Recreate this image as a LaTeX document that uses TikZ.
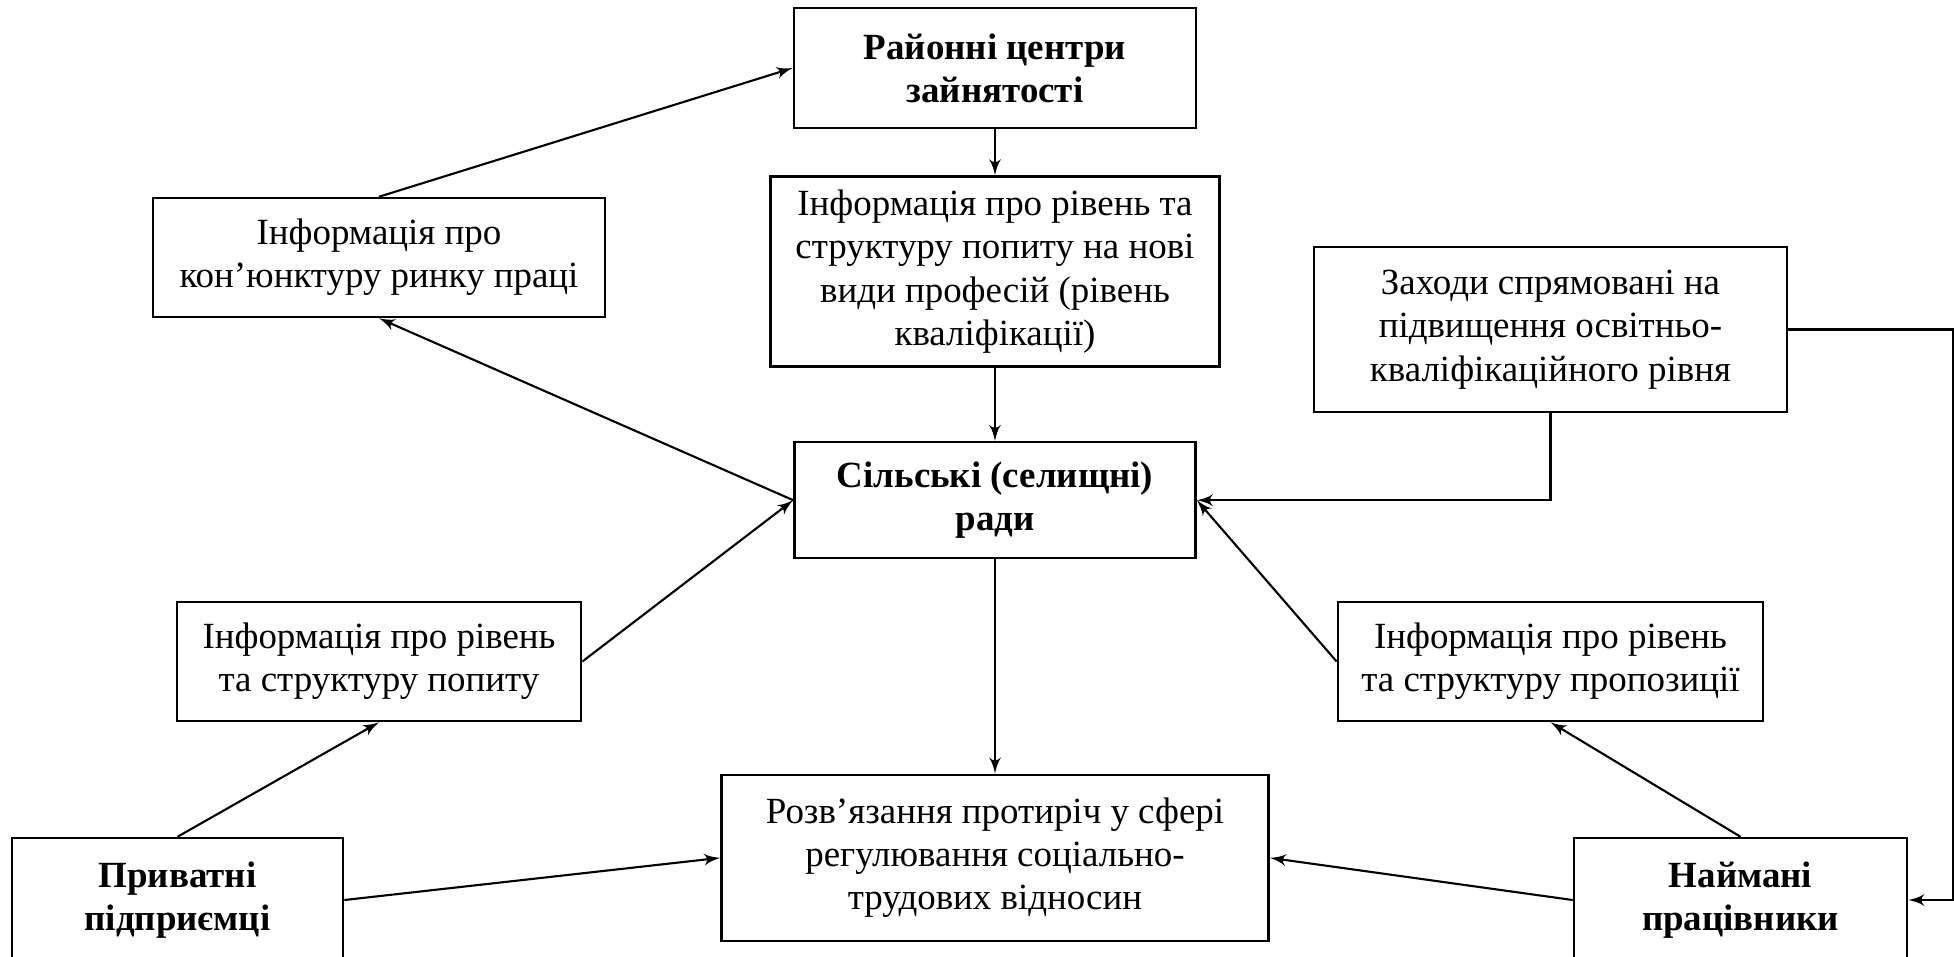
\documentclass[tikz,border=0pt]{standalone}
\usepackage{fontspec}
\setmainfont{Liberation Serif}
\usepackage{tikz}
\usetikzlibrary{arrows,positioning}
\tikzstyle{block}=[rectangle,draw=black,line width=0.7pt,align=center,
			inner sep=0pt,fill=white,font=\fontsize{10.5}{12.3}\selectfont]
\tikzstyle{headblock}=[block,font=\fontsize{10.5}{12.3}\selectfont\bfseries]
\tikzstyle{line}=[->,semithick]

\begin{document}
\begin{tikzpicture}[>=latex',x=0.01cm,y=-0.01cm]

	\useasboundingbox (0,0) rectangle (1954,956);

	\node[headblock,minimum width=4.02cm,minimum height=1.2cm] (top) at (995,68) {Районні центри\\зайнятості};
	\node[block,minimum width=4.49cm,minimum height=1.9cm] (newdemand) [below=0.46cm of top] {Інформація про рівень та\\структуру попиту на нові\\види професій (рівень\\кваліфікації)};
	\node[headblock,minimum width=4.01cm,minimum height=1.16cm] (council) [below=0.73cm of newdemand] {Сільські (селищні)\\ради};
	\node[block,minimum width=5.47cm,minimum height=1.66cm] (resolve) [below=2.14cm of council] {Розв’язання протиріч у сфері\\регулювання соціально-\\трудових відносин};
	\node[block,minimum width=4.52cm,minimum height=1.19cm] (market) at (379,257.5) {Інформація про\\кон’юнктуру ринку праці};
	\node[block,minimum width=4.73cm,minimum height=1.65cm] (measures) at (1550.5,329.5) {Заходи спрямовані на\\підвищення освітньо-\\кваліфікаційного рівня};
	\node[block,minimum width=4.04cm,minimum height=1.19cm] (demand) at (379,661.5) {Інформація про рівень\\та структуру попиту};
	\node[block,minimum width=4.25cm,minimum height=1.19cm] (supply) at (1550.5,661.5) {Інформація про рівень\\та структуру пропозиції};
	\node[headblock,minimum width=3.31cm,minimum height=1.24cm] (private) at (177.5,900) {Приватні\\підприємці};
	\node[headblock,minimum width=3.33cm,minimum height=1.24cm] (hired) at (1740.5,900) {Наймані\\працівники};

	\path [line]
		(market.north) edge (top.west);
	\path [line]
		(top.south) edge (newdemand.north);
	\path [line]
		(newdemand.south) edge (council.north);
	\path [line]
		(council.west) edge (market.south);
	\path [line]
		(demand.east) edge (council.west);
	\path [line]
		(supply.west) edge (council.east);
	\path [line]
		(council.south) edge (resolve.north);
	\path [line]
		(private.north) edge (demand.south);
	\path [line]
		(private.east) edge (resolve.west);
	\path [line]
		(hired.north) edge (supply.south);
	\path [line]
		(hired.west) edge (resolve.east);
	\draw [line] (measures.south) |- (council.east);
	\draw [line] (measures.east) -| ([xshift=0.45cm]hired.east) -- (hired.east);

\end{tikzpicture}
\end{document}
